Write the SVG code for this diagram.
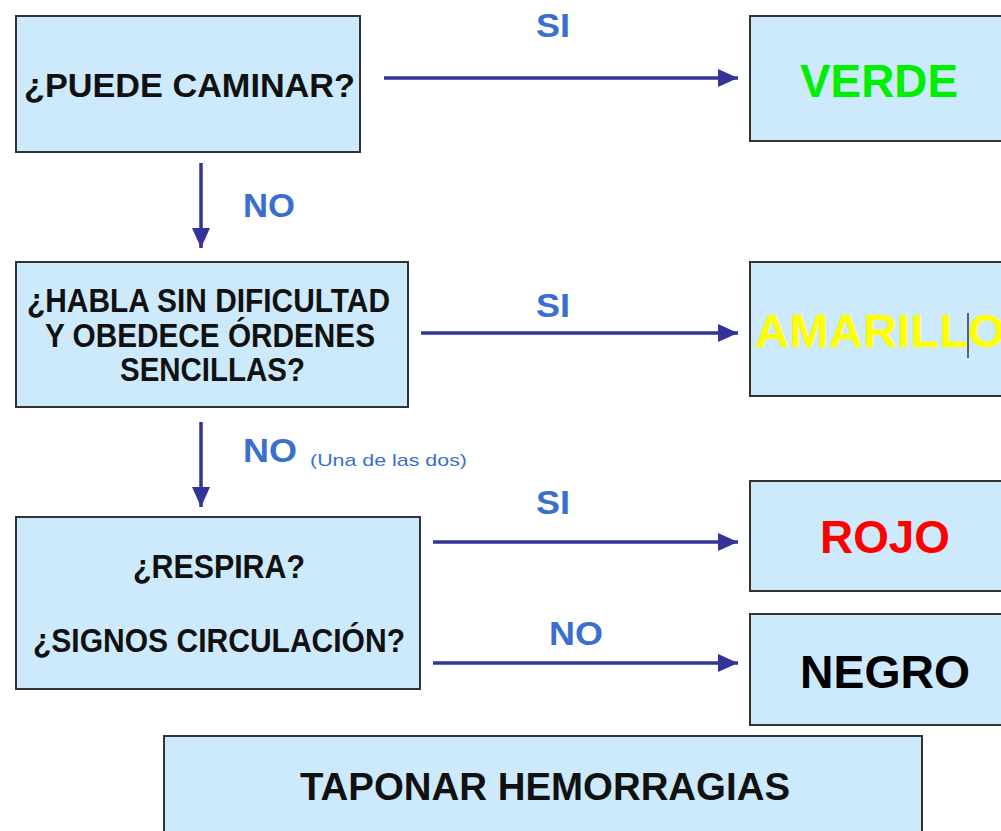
<svg xmlns="http://www.w3.org/2000/svg" width="1001" height="831" viewBox="0 0 1001 831">
<style>
.box{fill:#cceafc;stroke:#333;stroke-width:2}
.t{font-family:"Liberation Sans",Arial,sans-serif;font-weight:bold;text-anchor:middle}
.q{font-size:33px;fill:#111}
.big{font-size:47px}
.lab{font-size:34px;fill:#3a6fd0}
.small{font-family:"Liberation Sans",Arial,sans-serif;font-size:17px;fill:#3a6fd0}
.con{stroke:#333399;stroke-width:3.5;fill:none}
</style>
<defs>
<marker id="ah" markerUnits="userSpaceOnUse" markerWidth="22" markerHeight="20" refX="20" refY="10" orient="auto">
<path d="M0,1 L20,10 L0,19 Z" fill="#333399"/>
</marker>
</defs>
<rect width="1001" height="831" fill="#fff"/>
<g id="connectors">
<line class="con" x1="384" y1="78" x2="738" y2="78" marker-end="url(#ah)"/>
<line class="con" x1="421" y1="333" x2="738" y2="333" marker-end="url(#ah)"/>
<line class="con" x1="433" y1="542" x2="738" y2="542" marker-end="url(#ah)"/>
<line class="con" x1="433" y1="663" x2="738" y2="663" marker-end="url(#ah)"/>
<line class="con" x1="201" y1="163" x2="201" y2="248" marker-end="url(#ah)"/>
<line class="con" x1="201" y1="422" x2="201" y2="507" marker-end="url(#ah)"/>
<text class="t lab" x="553" y="37" textLength="34" lengthAdjust="spacingAndGlyphs">SI</text>
<text class="t lab" x="269" y="217" textLength="52" lengthAdjust="spacingAndGlyphs">NO</text>
<text class="t lab" x="553" y="317" textLength="34" lengthAdjust="spacingAndGlyphs">SI</text>
<text class="t lab" x="270" y="462" textLength="54" lengthAdjust="spacingAndGlyphs">NO</text>
<text class="small" x="310" y="466" textLength="157" lengthAdjust="spacingAndGlyphs">(Una de las dos)</text>
<text class="t lab" x="553" y="514" textLength="34" lengthAdjust="spacingAndGlyphs">SI</text>
<text class="t lab" x="576" y="645" textLength="54" lengthAdjust="spacingAndGlyphs">NO</text>
</g>
<g id="n-caminar">
<rect class="box" x="16" y="16" width="344" height="136"/>
<text class="t q" x="189.5" y="97" textLength="331" lengthAdjust="spacingAndGlyphs">¿PUEDE CAMINAR?</text>
</g>
<g id="n-habla">
<rect class="box" x="16" y="262" width="392" height="145"/>
<text class="t q" x="208.5" y="312" textLength="363" lengthAdjust="spacingAndGlyphs">¿HABLA SIN DIFICULTAD</text>
<text class="t q" x="210" y="347" textLength="330" lengthAdjust="spacingAndGlyphs">Y OBEDECE ÓRDENES</text>
<text class="t q" x="212.5" y="381" textLength="185" lengthAdjust="spacingAndGlyphs">SENCILLAS?</text>
</g>
<g id="n-respira">
<rect class="box" x="16" y="517" width="404" height="172"/>
<text class="t q" x="219" y="578" textLength="172" lengthAdjust="spacingAndGlyphs">¿RESPIRA?</text>
<text class="t q" x="219" y="652" textLength="372" lengthAdjust="spacingAndGlyphs">¿SIGNOS CIRCULACIÓN?</text>
</g>
<g id="n-taponar">
<rect class="box" x="164" y="736" width="758" height="110"/>
<text class="t" x="545" y="800" font-size="38" fill="#111" textLength="490" lengthAdjust="spacingAndGlyphs">TAPONAR HEMORRAGIAS</text>
</g>
<g id="n-verde">
<rect class="box" x="750" y="16" width="260" height="125"/>
<text class="t big" x="879" y="97" fill="#00ee00" textLength="158" lengthAdjust="spacingAndGlyphs">VERDE</text>
</g>
<g id="n-amarillo">
<rect class="box" x="750" y="262" width="260" height="134"/>
<text class="t big" x="755" y="347" fill="#ffff00" style="text-anchor:start" textLength="250" lengthAdjust="spacingAndGlyphs">AMARILLO</text>
<line x1="968" y1="313" x2="968" y2="358" stroke="#333" stroke-width="1.5"/>
</g>
<g id="n-rojo">
<rect class="box" x="750" y="481" width="260" height="110"/>
<text class="t big" x="885" y="553" fill="#ff0000" textLength="130" lengthAdjust="spacingAndGlyphs">ROJO</text>
</g>
<g id="n-negro">
<rect class="box" x="750" y="614" width="260" height="111"/>
<text class="t big" x="885" y="688" fill="#000" textLength="170" lengthAdjust="spacingAndGlyphs">NEGRO</text>
</g>
</svg>
